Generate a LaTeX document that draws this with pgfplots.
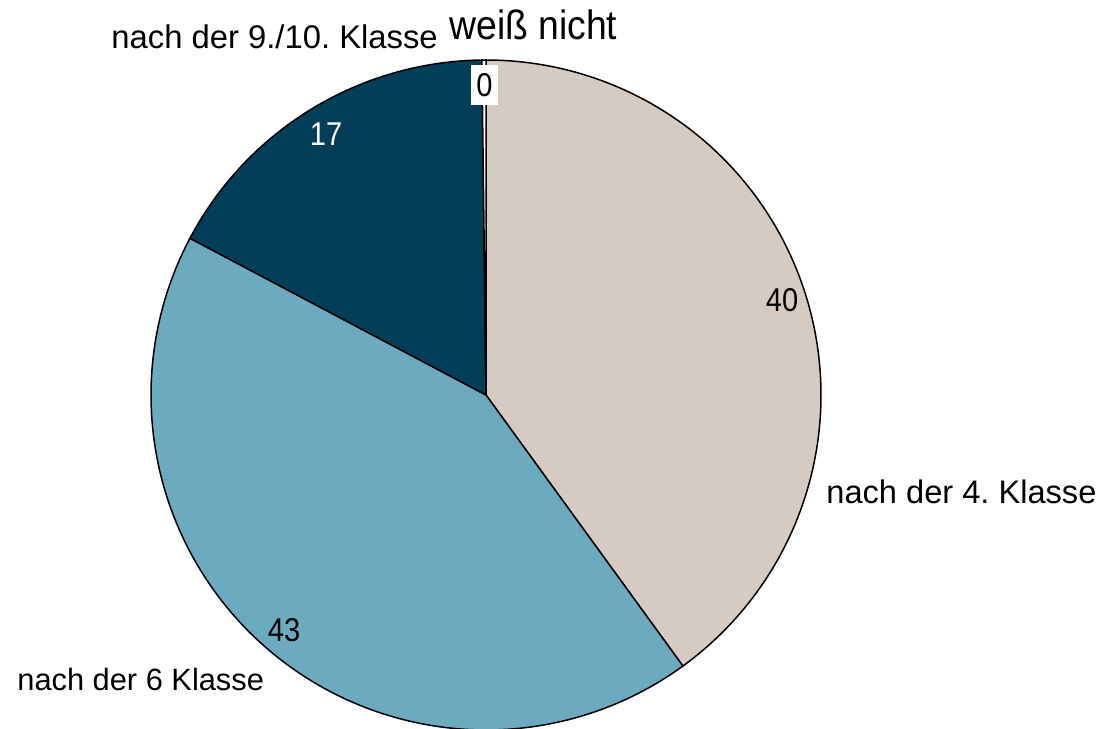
\documentclass[border=0pt]{standalone}
\usepackage{fontspec}
\setmainfont{Liberation Sans}
\newfontfamily\narrowfont{Liberation Sans}[FakeStretch=0.88]
\newfontfamily\weissfont{Liberation Sans}[FakeStretch=0.91]
\usepackage{pgfplots}
\pgfplotsset{compat=1.18}
\definecolor{beige}{RGB}{214,203,195}
\definecolor{midblue}{RGB}{108,170,192}
\definecolor{darkblue}{RGB}{0,63,87}
\frenchspacing
\begin{document}
\begin{tikzpicture}
\begin{axis}[
  at={(0,0)}, anchor=south west,
  scale only axis, width=550.5pt, height=364pt,
  xmin=0, xmax=1101, ymin=0, ymax=728,
  enlargelimits=false, hide axis,
  samples=120, variable=\t,
]
% slice boundaries (degrees) from shares 40, 42.75, 17.06, 0.19 (clockwise from top)
\addplot[fill=beige, draw=black, line width=0.75pt, domain=-54:90]
  ({486+335*cos(t)},{333+335*sin(t)}) -- (486,333) -- cycle;
\addplot[fill=midblue, draw=black, line width=0.75pt, domain=-207.9:-54]
  ({486+335*cos(t)},{333+335*sin(t)}) -- (486,333) -- cycle;
\addplot[fill=darkblue, draw=black, line width=0.75pt, domain=90.7:152.1]
  ({486+335*cos(t)},{333+335*sin(t)}) -- (486,333) -- cycle;
\addplot[fill=white, draw=black, line width=0.75pt, domain=90:90.7, samples=5]
  ({486+335*cos(t)},{333+335*sin(t)}) -- (486,333) -- cycle;
% value labels
\node[font=\narrowfont\fontsize{16.5}{18}\selectfont, inner sep=0pt] at (axis cs:782,427.5) {40};
\node[font=\narrowfont\fontsize{16.5}{18}\selectfont, inner sep=0pt] at (axis cs:284,97.5) {43};
\node[font=\narrowfont\fontsize{16.5}{18}\selectfont, inner sep=0pt, text=white] at (axis cs:326,594) {17};
\node[font=\narrowfont\fontsize{16.5}{18}\selectfont, fill=white, inner xsep=2.5pt, inner ysep=4pt] at (axis cs:484.5,643) {0};
% category labels
\node[font=\fontsize{16.3}{18}\selectfont, anchor=base west, inner sep=0pt] at (axis cs:826,225) {nach der 4. Klasse};
\node[font=\fontsize{15.4}{18}\selectfont, anchor=base west, inner sep=0pt] at (axis cs:17,37.3) {nach der 6 Klasse};
\node[font=\fontsize{16.4}{18}\selectfont, anchor=base west, inner sep=0pt] at (axis cs:111,679.7) {nach der 9./10. Klasse};
\node[font=\weissfont\fontsize{20.5}{22}\selectfont, anchor=base west, inner sep=0pt] at (axis cs:449,688) {weiß nicht};
\end{axis}
\pgfresetboundingbox
\path (0,0) rectangle (550.5pt,364pt);
\end{tikzpicture}
\end{document}
